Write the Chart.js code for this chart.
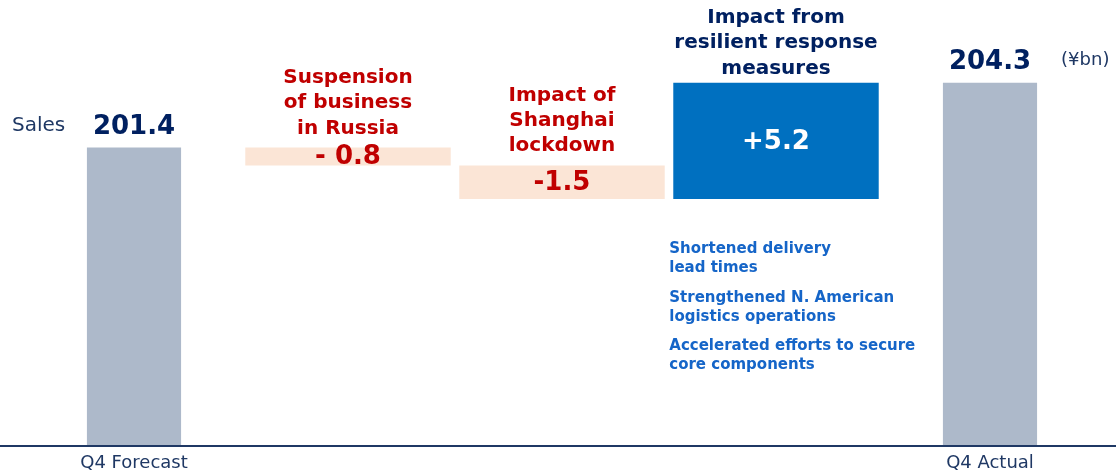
<!DOCTYPE html>
<html><head><meta charset="utf-8">
<script src="https://cdn.jsdelivr.net/npm/chart.js@4"></script>
<style>html,body{margin:0;padding:0;background:#fff}#wrap{width:1116px;height:475px;position:relative}</style>
</head><body><div id="wrap"><canvas id="c"></canvas></div>
<script>
// ---- data ----
const categories = ['Q4 Forecast', 'Suspension of business in Russia', 'Impact of Shanghai lockdown', 'Impact from resilient response measures', 'Q4 Actual'];
const totals = [201.4, null, null, null, 204.3];
const changes = [null, -0.8, -1.5, 5.2, null];
const changeLabels = [null, '- 0.8', '-1.5', '+5.2', null];
const stepTitles = [null, ['Suspension', 'of business', 'in Russia'], ['Impact of', 'Shanghai', 'lockdown'], ['Impact from', 'resilient response', 'measures'], null];
const resilientNotes = [['Shortened delivery', 'lead times'], ['Strengthened N. American', 'logistics operations'], ['Accelerated efforts to secure', 'core components']];
const unitLabel = '(¥bn)';
const seriesLabel = 'Sales';

// ---- derived floating ranges for the waterfall steps ----
const floating = [];
let running = totals[0];
changes.forEach(c => {
  if (c === null) { floating.push(null); return; }
  const s = running;
  running = +(running + c).toFixed(1);
  floating.push([s, running]);
});

const FONT = '"DejaVu Sans", Verdana, sans-serif';
const NAVY = '#002060', NAVY2 = '#1f3864', RED = '#c00000', GREY = '#adb9ca', PEACH = '#fbe5d6', BLUE = '#0070c0', NOTE = '#1565c8';

const annot = {
  id: 'annot',
  afterDatasetsDraw(chart) {
    const ctx = chart.ctx;
    const m0 = chart.getDatasetMeta(0), m1 = chart.getDatasetMeta(1);
    ctx.save();
    // axis line across the full width
    ctx.strokeStyle = NAVY2; ctx.lineWidth = 2;
    ctx.beginPath(); ctx.moveTo(0, chart.chartArea.bottom + 1); ctx.lineTo(chart.width, chart.chartArea.bottom + 1); ctx.stroke();

    // totals labels
    ctx.textAlign = 'center'; ctx.textBaseline = 'alphabetic';
    totals.forEach((v, i) => {
      if (v === null) return;
      const b = m0.data[i];
      ctx.font = 'bold 26px ' + FONT; ctx.fillStyle = NAVY;
      ctx.fillText(v.toFixed(1), b.x, b.y - 14);
    });
    const b0 = m0.data[0];
    ctx.textAlign = 'left'; ctx.font = '20px ' + FONT; ctx.fillStyle = NAVY2;
    ctx.fillText(seriesLabel, 12, b0.y - 17);
    const bl = m0.data[4];
    ctx.font = '18px ' + FONT;
    ctx.fillText(unitLabel, bl.x + bl.width / 2 + 24, bl.y - 18);

    // step bars
    changes.forEach((c, i) => {
      if (c === null) return;
      const b = m1.data[i];
      const top = Math.min(b.y, b.base), bot = Math.max(b.y, b.base);
      ctx.textAlign = 'center'; ctx.textBaseline = 'middle';
      ctx.font = 'bold 26px ' + FONT; ctx.fillStyle = c < 0 ? RED : '#ffffff';
      ctx.fillText(changeLabels[i], b.x, (top + bot) / 2 + 1);
      const lines = stepTitles[i];
      ctx.textBaseline = 'alphabetic'; ctx.font = 'bold 20px ' + FONT;
      ctx.fillStyle = c < 0 ? RED : NAVY;
      const gap = c < 0 ? 14 : 9;
      lines.forEach((ln, k) => ctx.fillText(ln, b.x, top - gap - (lines.length - 1 - k) * 25.3));
      if (c > 0) {
        ctx.textAlign = 'left'; ctx.font = 'bold 15px ' + FONT; ctx.fillStyle = NOTE;
        const x0 = b.x - b.width / 2 - 4;
        resilientNotes.forEach((item, j) => {
          item.forEach((ln, k) => ctx.fillText(ln, x0, chart.chartArea.top + 253 + j * 48.5 + k * 19));
        });
      }
    });
    ctx.restore();
  }
};

new Chart(document.getElementById('c'), {
  type: 'bar',
  data: {
    labels: categories,
    datasets: [
      { label: seriesLabel, data: totals, backgroundColor: GREY, barPercentage: 0.44, categoryPercentage: 1 },
      { label: 'Change', data: floating, backgroundColor: changes.map(c => c !== null && c > 0 ? BLUE : PEACH), barPercentage: 0.96, categoryPercentage: 1 }
    ]
  },
  options: {
    responsive: true, maintainAspectRatio: false, animation: false,
    grouped: false,
    layout: { padding: { left: 27, right: 19, top: 0, bottom: 0 } },
    plugins: { legend: { display: false }, tooltip: { enabled: false } },
    scales: {
      x: {
        grid: { display: false, drawTicks: false }, border: { display: false },
        ticks: {
          autoSkip: false, maxRotation: 0, padding: 8, color: NAVY2,
          font: { family: FONT, size: 18 },
          callback: (v, i) => totals[i] !== null ? categories[i] : ''
        },
        afterFit: s => { s.height = 30; }
      },
      y: { display: false, min: 188.1, max: 208 }
    }
  },
  plugins: [annot]
});
</script>
</body></html>
